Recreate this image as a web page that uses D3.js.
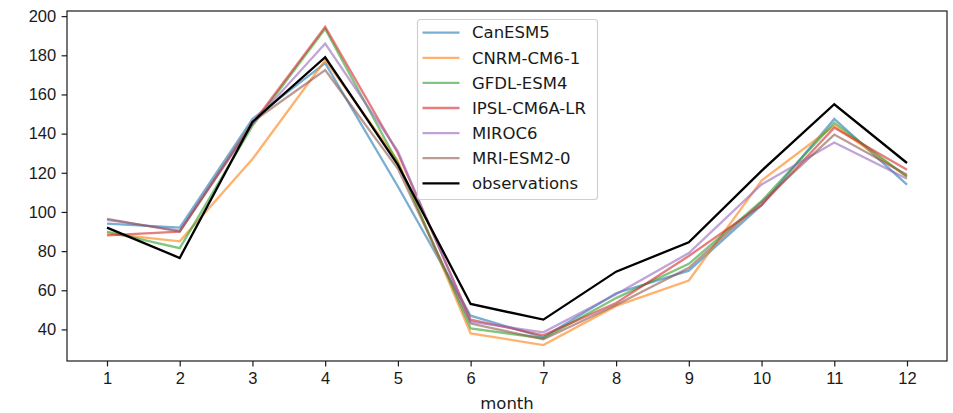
<!DOCTYPE html>
<html lang="en">
<head>
  <meta charset="UTF-8">
  <title>Monthly values: models vs observations</title>
  <script src="https://d3js.org/d3.v7.min.js"></script>
  <style>
    body, html {
      margin: 0;
      padding: 0;
      background: white;
      overflow: hidden;
    }
    svg {
      display: block;
      font-family: "DejaVu Sans", sans-serif;
    }
    .axis text {
      font-size: 16.5px;
      fill: #1a1a1a;
    }
    .axis path, .axis line {
      stroke: #1a1a1a;
      stroke-width: 1.2px;
    }
  </style>
</head>
<body>
  <svg id="chart"></svg>
  <script>
    // data
    const months = [1, 2, 3, 4, 5, 6, 7, 8, 9, 10, 11, 12];
    const canesm5 = [94, 92, 147.5, 176, 113, 47, 36, 58.5, 70, 103.5, 147.5, 114];
    const cnrm = [89, 85, 127, 177.5, 126, 38, 32, 52, 65, 116, 144, 118];
    const gfdl = [90, 81.5, 144, 193.5, 125, 40.5, 35.5, 56, 73.5, 105.5, 145.5, 118];
    const ipsl = [88, 90, 145, 194.5, 130, 45, 37, 53.5, 77.5, 103.5, 143, 121.5];
    const miroc6 = [96, 90.5, 145, 186, 131, 44, 38.5, 58, 79, 114, 135.5, 117];
    const mri = [96.5, 90, 146, 172.5, 122, 43, 35, 52.5, 71.5, 105, 139.5, 119];
    const observations = [92, 76.5, 146, 179, 124, 53, 45, 69.5, 84.5, 121, 155, 125];
    const yTicks = [40, 60, 80, 100, 120, 140, 160, 180, 200];

    const series = [
      { name: "CanESM5", values: canesm5, color: "#1f77b4", opacity: 0.6 },
      { name: "CNRM-CM6-1", values: cnrm, color: "#ff7f0e", opacity: 0.6 },
      { name: "GFDL-ESM4", values: gfdl, color: "#2ca02c", opacity: 0.6 },
      { name: "IPSL-CM6A-LR", values: ipsl, color: "#d62728", opacity: 0.6 },
      { name: "MIROC6", values: miroc6, color: "#9467bd", opacity: 0.6 },
      { name: "MRI-ESM2-0", values: mri, color: "#8c564b", opacity: 0.6 },
      { name: "observations", values: observations, color: "#000000", opacity: 1 }
    ];

    const width = 953;
    const height = 413;
    const margin = { top: 11, right: 6, bottom: 52, left: 67 };

    const svg = d3.select("#chart")
      .attr("width", width)
      .attr("height", height);

    // matplotlib-style 5% padding around the data
    const allValues = series.flatMap(s => s.values);
    const yMin = d3.min(allValues), yMax = d3.max(allValues);
    const yPad = (yMax - yMin) * 0.05;
    const xPad = (d3.max(months) - d3.min(months)) * 0.05;

    const x = d3.scaleLinear()
      .domain([d3.min(months) - xPad, d3.max(months) + xPad])
      .range([margin.left, width - margin.right]);

    const y = d3.scaleLinear()
      .domain([yMin - yPad, yMax + yPad])
      .range([height - margin.bottom, margin.top]);

    // lines
    const line = d3.line()
      .x((d, i) => x(months[i]))
      .y(d => y(d));

    svg.append("g")
      .selectAll("path")
      .data(series)
      .join("path")
      .attr("d", d => line(d.values))
      .attr("fill", "none")
      .attr("stroke", d => d.color)
      .attr("stroke-opacity", d => d.opacity)
      .attr("stroke-width", 2.3)
      .attr("stroke-linejoin", "miter");

    // axes
    const xAxis = svg.append("g")
      .attr("class", "axis")
      .attr("transform", `translate(0,${height - margin.bottom})`)
      .call(d3.axisBottom(x).tickValues(months).tickSize(5.4).tickPadding(5.4).tickSizeOuter(0));
    xAxis.select(".domain").remove();

    const yAxis = svg.append("g")
      .attr("class", "axis")
      .attr("transform", `translate(${margin.left},0)`)
      .call(d3.axisLeft(y).tickValues(yTicks).tickSize(5.4).tickPadding(5.4).tickSizeOuter(0));
    yAxis.select(".domain").remove();

    // frame
    svg.append("rect")
      .attr("x", margin.left)
      .attr("y", margin.top)
      .attr("width", width - margin.left - margin.right)
      .attr("height", height - margin.top - margin.bottom)
      .attr("fill", "none")
      .attr("stroke", "#1a1a1a")
      .attr("stroke-width", 1.2);

    // x label
    svg.append("text")
      .attr("x", (margin.left + width - margin.right) / 2)
      .attr("y", 409)
      .attr("text-anchor", "middle")
      .attr("font-size", 16.5)
      .attr("fill", "#1a1a1a")
      .text("month");

    // legend
    const legend = svg.append("g").attr("transform", "translate(417,19)");
    legend.append("rect")
      .attr("x", 0.5)
      .attr("y", 0.5)
      .attr("width", 180)
      .attr("height", 180)
      .attr("rx", 3)
      .attr("fill", "white")
      .attr("fill-opacity", 0.8)
      .attr("stroke", "#d0d0d0")
      .attr("stroke-width", 1.2);

    const rows = legend.selectAll("g.row")
      .data(series)
      .join("g")
      .attr("class", "row")
      .attr("transform", (d, i) => `translate(0,${13.7 + i * 25.1})`);

    rows.append("line")
      .attr("x1", 5.5)
      .attr("x2", 42.5)
      .attr("stroke", d => d.color)
      .attr("stroke-opacity", d => d.opacity)
      .attr("stroke-width", 2.3);

    rows.append("text")
      .attr("x", 55)
      .attr("dy", "0.35em")
      .attr("font-size", 16.5)
      .attr("fill", "#1a1a1a")
      .text(d => d.name);
  </script>
</body>
</html>
